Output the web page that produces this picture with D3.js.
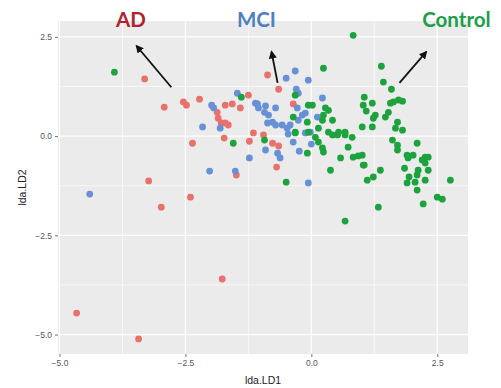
<!DOCTYPE html>
<html>
<head>
<meta charset="utf-8">
<script src="https://cdn.jsdelivr.net/npm/d3@7"></script>
<style>
  html, body { margin: 0; padding: 0; background: #fff; }
  svg { display: block; }
</style>
</head>
<body>
<svg id="chart" width="501" height="388"></svg>
<script>
// LDA projection: LD1 / LD2 scores per diagnostic group
const adLD1 = [-3.31,-2.92,-2.54,-2.48,-2.22,-1.87,-1.85,-1.79,-1.71,-1.65,-1.71,-1.57,-1.41,-1.25,-1.15,-2.36,-1.73,-1.23,-1.49,-3.23,-2.40,-2.98,-1.77,-4.66,-3.43,-0.87,-0.65,-0.36,-0.95,-0.77,-0.65,-0.69];
const adLD2 = [1.44,0.73,0.86,0.78,0.93,0.60,0.45,0.33,0.33,0.28,0.78,0.81,0.71,1.03,0.08,-0.18,-0.05,-0.13,-0.98,-1.13,-1.54,-1.79,-3.60,-4.46,-5.11,1.54,1.18,0.81,0.03,-0.18,-0.25,-0.78];

const mciLD1 = [-1.98,-1.94,-1.47,-1.11,-1.05,-2.16,-1.81,-1.23,-2.02,-1.51,-4.40,-0.32,-0.50,-0.06,-0.30,-0.26,0.22,-1.07,-0.91,-0.93,-0.71,-0.85,-0.77,-0.87,-0.71,-0.58,-0.42,-0.26,-0.18,-0.12,-0.28,0.12,-0.48,-0.46,-0.36,-0.12,-0.02,-0.91,-0.67,-0.62,-0.24,0.00,-0.06];
const mciLD2 = [0.78,0.71,1.08,0.83,0.71,0.23,0.20,-0.55,-0.88,-0.88,-1.46,1.64,1.46,1.41,1.18,1.08,0.96,0.81,0.76,0.60,0.71,0.53,0.35,0.33,0.28,0.28,0.28,0.40,0.53,0.58,0.71,0.48,0.20,0.05,-0.15,0.08,0.10,-0.35,-0.43,-0.55,-0.38,-0.20,-1.18];

const ctlLD1 = [-3.91,-1.39,-1.55,0.24,0.83,1.39,1.43,1.59,-0.32,-0.06,0.02,-0.36,0.28,0.34,0.24,0.22,0.42,-0.08,0.14,-0.06,-0.32,0.34,0.54,0.67,1.01,1.05,1.03,1.09,1.21,1.27,1.23,1.21,1.47,1.53,1.57,1.63,1.73,1.81,1.71,1.67,1.81,-0.93,-0.32,0.08,0.14,0.22,0.24,-0.08,0.42,0.52,0.67,0.81,0.38,0.58,0.73,0.83,0.93,1.03,-0.50,1.61,1.71,1.71,2.10,1.90,2.02,1.92,2.20,2.26,2.32,2.26,1.01,1.05,1.37,1.23,1.11,1.85,2.12,2.32,1.94,2.10,2.26,1.90,2.06,2.10,2.76,2.50,2.60,2.22,1.33,0.67];
const ctlLD2 = [1.61,0.98,-0.18,1.71,2.54,1.76,1.36,1.18,1.03,0.78,0.78,0.48,0.71,0.65,0.53,0.40,0.40,0.35,0.20,0.10,0.10,0.10,0.10,0.10,0.23,0.98,0.78,0.63,0.83,0.53,0.45,0.23,0.48,0.60,0.83,0.86,0.91,0.88,0.35,0.20,0.15,-0.10,0.08,-0.03,-0.15,-0.30,-0.40,-0.43,0.03,0.03,0.03,-0.03,-0.86,-0.55,-0.28,-0.53,-0.50,-0.73,-1.16,-0.10,-0.23,-0.35,-0.18,-0.48,-0.48,-0.55,-0.60,-0.53,-0.53,-0.68,-0.48,-0.73,-0.86,-1.03,-1.11,-0.81,-0.86,-0.86,-1.03,-0.98,-1.11,-1.18,-1.16,-1.36,-1.11,-1.54,-1.59,-1.71,-1.79,-2.14];

// group names, label colours, point colours, draw order
const groups = ["AD", "MCI", "Control"];
const labelColors = ["#B3212E", "#4F7FC2", "#1E9E48"];
const pointColors = ["#E8716C", "#6790D6", "#1CA33D"];

// annotation arrows in LD space: [fromLD1, fromLD2, toLD1, toLD2]
const arrowAD = [-2.78, 1.23, -3.47, 2.27];
const arrowMCI = [-0.67, 1.34, -0.79, 2.12];
const arrowCtl = [1.75, 1.34, 2.28, 2.12];

// group label anchor positions in LD space
const labelLD1 = [-3.58, -1.09, 2.88];
const labelLD2 = [2.98, 2.98, 2.98];

const xTicks = [-5.0, -2.5, 0.0, 2.5];
const yTicks = [-5.0, -2.5, 0.0, 2.5];
const xMinor = [-3.75, -1.25, 1.25];
const yMinor = [-3.75, -1.25, 1.25];

const svg = d3.select("#chart");
const panel = { left: 58, top: 21, right: 468, bottom: 354 };

const x = d3.scaleLinear().domain([-5.03, 3.11]).range([panel.left, panel.right]);
const y = d3.scaleLinear().domain([-5.49, 2.9]).range([panel.bottom, panel.top]);

// panel background
svg.append("rect")
  .attr("x", panel.left).attr("y", panel.top)
  .attr("width", panel.right - panel.left).attr("height", panel.bottom - panel.top)
  .attr("fill", "#EBEBEB");

// grid lines: thin minor, thicker major
const g = svg.append("g");
function vLines(vals, w) {
  g.append("g").selectAll("line").data(vals).join("line")
    .attr("x1", d => x(d)).attr("x2", d => x(d))
    .attr("y1", panel.top).attr("y2", panel.bottom)
    .attr("stroke", "#fff").attr("stroke-width", w);
}
function hLines(vals, w) {
  g.append("g").selectAll("line").data(vals).join("line")
    .attr("y1", d => y(d)).attr("y2", d => y(d))
    .attr("x1", panel.left).attr("x2", panel.right)
    .attr("stroke", "#fff").attr("stroke-width", w);
}
vLines(xMinor, 0.6); hLines(yMinor, 0.6);
vLines(xTicks, 1.2); hLines(yTicks, 1.2);

// axes
const fmt = d3.format(".1f");
const xAxis = svg.append("g")
  .attr("transform", `translate(0,${panel.bottom})`)
  .call(d3.axisBottom(x).tickValues(xTicks).tickFormat(fmt).tickSize(3).tickPadding(3));
const yAxis = svg.append("g")
  .attr("transform", `translate(${panel.left},0)`)
  .call(d3.axisLeft(y).tickValues(yTicks).tickFormat(fmt).tickSize(3).tickPadding(3));
[xAxis, yAxis].forEach(a => {
  a.select(".domain").remove();
  a.selectAll(".tick line").attr("stroke", "#4D4D4D").attr("stroke-width", 0.8);
  a.selectAll(".tick text")
    .attr("fill", "#555")
    .style("font-family", "'Liberation Sans', Arial, sans-serif")
    .style("font-size", "8.5px");
});

// axis titles
svg.append("text")
  .attr("x", (panel.left + panel.right) / 2).attr("y", 384)
  .attr("text-anchor", "middle")
  .style("font-family", "'Liberation Sans', Arial, sans-serif")
  .style("font-size", "10.5px").attr("fill", "#222")
  .text("lda.LD1");
svg.append("text")
  .attr("transform", `translate(26,${(panel.top + panel.bottom) / 2}) rotate(-90)`)
  .attr("text-anchor", "middle")
  .style("font-family", "'Liberation Sans', Arial, sans-serif")
  .style("font-size", "10.5px").attr("fill", "#222")
  .text("lda.LD2");

// points
const series = [
  d3.zip(adLD1, adLD2),
  d3.zip(mciLD1, mciLD2),
  d3.zip(ctlLD1, ctlLD2)
];
series.forEach((pts, i) => {
  svg.append("g").selectAll("circle").data(pts).join("circle")
    .attr("cx", d => x(d[0])).attr("cy", d => y(d[1]))
    .attr("r", 3.4)
    .attr("fill", pointColors[i]);
});

// arrows
const defs = svg.append("defs");
defs.append("marker")
  .attr("id", "head").attr("viewBox", "0 0 10 10")
  .attr("refX", 8).attr("refY", 5)
  .attr("markerWidth", 4.5).attr("markerHeight", 4.5)
  .attr("orient", "auto")
  .append("path").attr("d", "M0,0 L10,5 L0,10 Z").attr("fill", "#111");

[arrowAD, arrowMCI, arrowCtl].forEach(a => {
  svg.append("line")
    .attr("x1", x(a[0])).attr("y1", y(a[1]))
    .attr("x2", x(a[2])).attr("y2", y(a[3]))
    .attr("stroke", "#111").attr("stroke-width", 1.8)
    .attr("marker-end", "url(#head)");
});

// group labels
groups.forEach((name, i) => {
  svg.append("text")
    .attr("x", x(labelLD1[i])).attr("y", y(labelLD2[i]) + 9)
    .attr("text-anchor", "middle")
    .style("font-family", "Lato, 'Open Sans', sans-serif")
    .style("font-weight", "bold")
    .style("font-size", "20.5px")
    .attr("fill", labelColors[i])
    .text(name);
});
</script>
</body>
</html>
